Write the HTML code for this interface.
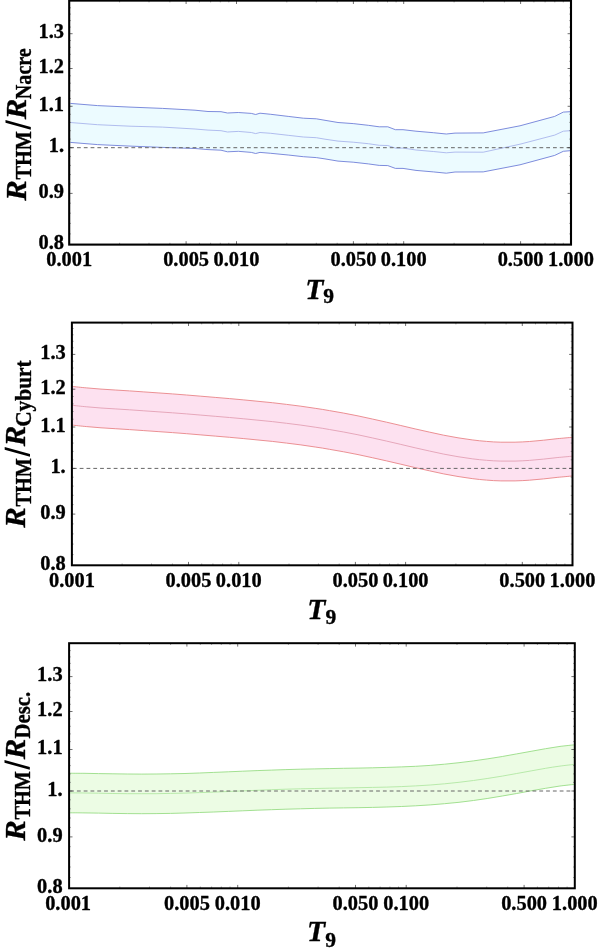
<!DOCTYPE html>
<html><head><meta charset="utf-8"><title>R ratios</title>
<style>
html,body{margin:0;padding:0;background:#fff;}
body{width:600px;height:952px;overflow:hidden;font-family:"Liberation Serif",serif;}
svg{display:block;will-change:transform;}
.t{font-family:"Liberation Serif",serif;font-weight:bold;fill:#000;stroke:#000;stroke-width:0.35px;stroke-linejoin:round;}
.tk{font-size:20.4px;}
.bi{font-style:italic;font-size:29.4px;}
.bt{font-style:italic;font-size:29.6px;}
.s9{font-size:21.5px;font-style:normal;}
.sb{font-size:22.6px;}
</style></head><body>
<svg width="600" height="952" viewBox="0 0 600 952">

<g>
<path d="M70.4 103.4L97.5 105.6L130.0 107.1L162.5 108.4L195.0 110.2L208.0 111.5L221.0 111.7L227.5 113.0L238.3 112.5L251.3 113.4L255.7 114.5L260.0 113.2L270.8 114.3L288.2 116.4L303.3 118.2L316.3 118.8L325.0 120.3L338.0 122.5L353.2 123.6L368.3 125.3L379.2 126.8L387.8 126.8L395.4 129.7L403.0 129.7L416.0 131.2L433.3 132.7L446.3 134.0L455.0 133.1L483.2 132.9L520.0 125.8L554.7 116.4L563.3 112.1L570.0 111.7L570.0 150.7L563.3 151.3L554.7 155.4L520.0 164.8L483.2 171.9L455.0 172.0L446.3 173.2L433.3 171.9L416.0 170.4L403.0 168.4L395.4 168.4L387.8 165.6L379.2 165.4L368.3 163.9L353.2 162.2L338.0 161.1L325.0 158.9L316.3 157.6L303.3 156.7L288.2 155.0L270.8 153.3L260.0 152.4L255.7 153.5L251.3 152.4L238.3 151.3L227.5 151.8L221.0 150.2L208.0 149.6L195.0 148.5L162.5 147.4L130.0 146.1L97.5 144.6L70.4 142.4Z" fill="#ecfbff" stroke="none"/>
<path d="M70.4 122.5L97.5 124.7L130.0 126.2L162.5 127.1L195.0 129.0L208.0 130.1L221.0 130.7L227.5 132.0L238.3 131.4L251.3 132.5L255.7 133.6L260.0 132.5L270.8 133.3L288.2 135.3L303.3 137.0L316.3 137.7L325.0 139.2L338.0 141.1L353.2 142.2L368.3 143.7L379.2 145.3L387.8 145.5L395.4 148.1L403.0 148.1L416.0 150.0L433.3 151.5L446.3 152.8L455.0 152.1L483.2 152.2L520.0 144.2L554.7 135.1L563.3 131.2L570.0 130.7" fill="none" stroke="#a9b5ec" stroke-width="0.9"/>
<path d="M70.4 103.4L97.5 105.6L130.0 107.1L162.5 108.4L195.0 110.2L208.0 111.5L221.0 111.7L227.5 113.0L238.3 112.5L251.3 113.4L255.7 114.5L260.0 113.2L270.8 114.3L288.2 116.4L303.3 118.2L316.3 118.8L325.0 120.3L338.0 122.5L353.2 123.6L368.3 125.3L379.2 126.8L387.8 126.8L395.4 129.7L403.0 129.7L416.0 131.2L433.3 132.7L446.3 134.0L455.0 133.1L483.2 132.9L520.0 125.8L554.7 116.4L563.3 112.1L570.0 111.7" fill="none" stroke="#6f7fd8" stroke-width="0.9"/>
<path d="M70.4 142.4L97.5 144.6L130.0 146.1L162.5 147.4L195.0 148.5L208.0 149.6L221.0 150.2L227.5 151.8L238.3 151.3L251.3 152.4L255.7 153.5L260.0 152.4L270.8 153.3L288.2 155.0L303.3 156.7L316.3 157.6L325.0 158.9L338.0 161.1L353.2 162.2L368.3 163.9L379.2 165.4L387.8 165.6L395.4 168.4L403.0 168.4L416.0 170.4L433.3 171.9L446.3 173.2L455.0 172.0L483.2 171.9L520.0 164.8L554.7 155.4L563.3 151.3L570.0 150.7" fill="none" stroke="#6f7fd8" stroke-width="0.9"/>
<line x1="70.2" y1="147.7" x2="570.0" y2="147.7" stroke="#666" stroke-width="1" stroke-dasharray="3.8 3"/>
<path d="M69.2 233.9h1.8M571.0 233.9h-1.8M69.2 223.4h1.8M571.0 223.4h-1.8M69.2 213.2h1.8M571.0 213.2h-1.8M69.2 203.2h1.8M571.0 203.2h-1.8M69.2 183.9h1.8M571.0 183.9h-1.8M69.2 174.6h1.8M571.0 174.6h-1.8M69.2 165.4h1.8M571.0 165.4h-1.8M69.2 156.5h1.8M571.0 156.5h-1.8M69.2 139.1h1.8M571.0 139.1h-1.8M69.2 130.7h1.8M571.0 130.7h-1.8M69.2 122.4h1.8M571.0 122.4h-1.8M69.2 114.3h1.8M571.0 114.3h-1.8M69.2 98.5h1.8M571.0 98.5h-1.8M69.2 90.8h1.8M571.0 90.8h-1.8M69.2 83.2h1.8M571.0 83.2h-1.8M69.2 75.8h1.8M571.0 75.8h-1.8M69.2 61.3h1.8M571.0 61.3h-1.8M69.2 54.3h1.8M571.0 54.3h-1.8M69.2 47.3h1.8M571.0 47.3h-1.8M69.2 40.5h1.8M571.0 40.5h-1.8M69.2 27.1h1.8M571.0 27.1h-1.8M69.2 20.6h1.8M571.0 20.6h-1.8M69.2 14.1h1.8M571.0 14.1h-1.8M69.2 7.8h1.8M571.0 7.8h-1.8M119.6 244.6v-1.8M119.6 0.6v1.8M149.0 244.6v-1.8M149.0 0.6v1.8M169.9 244.6v-1.8M169.9 0.6v1.8M199.4 244.6v-1.8M199.4 0.6v1.8M210.6 244.6v-1.8M210.6 0.6v1.8M220.3 244.6v-1.8M220.3 0.6v1.8M228.8 244.6v-1.8M228.8 0.6v1.8M286.8 244.6v-1.8M286.8 0.6v1.8M316.3 244.6v-1.8M316.3 0.6v1.8M337.2 244.6v-1.8M337.2 0.6v1.8M366.6 244.6v-1.8M366.6 0.6v1.8M377.8 244.6v-1.8M377.8 0.6v1.8M387.5 244.6v-1.8M387.5 0.6v1.8M396.1 244.6v-1.8M396.1 0.6v1.8M454.1 244.6v-1.8M454.1 0.6v1.8M483.5 244.6v-1.8M483.5 0.6v1.8M504.4 244.6v-1.8M504.4 0.6v1.8M533.9 244.6v-1.8M533.9 0.6v1.8M545.1 244.6v-1.8M545.1 0.6v1.8M554.8 244.6v-1.8M554.8 0.6v1.8M563.3 244.6v-1.8M563.3 0.6v1.8" stroke="#555" stroke-width="0.5" fill="none"/>
<path d="M69.2 193.4h3.4M571.0 193.4h-3.4M69.2 147.7h3.4M571.0 147.7h-3.4M69.2 106.3h3.4M571.0 106.3h-3.4M69.2 68.5h3.4M571.0 68.5h-3.4M69.2 33.7h3.4M571.0 33.7h-3.4M186.1 244.6v-3.4M186.1 0.6v3.4M236.5 244.6v-3.4M236.5 0.6v3.4M353.4 244.6v-3.4M353.4 0.6v3.4M403.7 244.6v-3.4M403.7 0.6v3.4M520.6 244.6v-3.4M520.6 0.6v3.4" stroke="#333" stroke-width="0.7" fill="none"/>
<rect x="69.2" y="0.6" width="501.8" height="244.0" fill="none" stroke="#000" stroke-width="2.1"/>
<text class="t tk" x="64.0" y="38.4" text-anchor="end">1.3</text>
<text class="t tk" x="64.0" y="73.2" text-anchor="end">1.2</text>
<text class="t tk" x="64.0" y="111.0" text-anchor="end">1.1</text>
<text class="t tk" x="64.0" y="152.4" text-anchor="end">1.</text>
<text class="t tk" x="64.0" y="198.1" text-anchor="end">0.9</text>
<text class="t tk" x="64.0" y="249.3" text-anchor="end">0.8</text>
<text class="t tk" x="69.2" y="266.2" text-anchor="middle">0.001</text>
<text class="t tk" x="186.1" y="266.2" text-anchor="middle">0.005</text>
<text class="t tk" x="236.5" y="266.2" text-anchor="middle">0.010</text>
<text class="t tk" x="353.4" y="266.2" text-anchor="middle">0.050</text>
<text class="t tk" x="403.7" y="266.2" text-anchor="middle">0.100</text>
<text class="t tk" x="520.6" y="266.2" text-anchor="middle">0.500</text>
<text class="t tk" x="571.0" y="266.2" text-anchor="middle">1.000</text>
<text class="t bt" x="305.2" y="299.0">T<tspan class="s9" dy="4.3">9</tspan></text>
<g transform="translate(26.0 201.0) rotate(-90)">
<text class="t bi" x="0.3" y="0" transform="scale(1.045 1)">R</text>
<text class="t sb" x="21.4" y="5.4" textLength="48.5" lengthAdjust="spacingAndGlyphs">THM</text>
<path d="M71.3 4.8h2.7L81.0 -20.5h-2.7Z" fill="#000"/>
<text class="t bi" x="78.3" y="0" transform="scale(1.045 1)">R</text>
<text class="t sb" x="101.8" y="5.4" textLength="51.0" lengthAdjust="spacingAndGlyphs">Nacre</text>
</g>
</g>
<g>
<path d="M72.4 386.4C74.8 386.7 81.9 387.5 86.7 387.9C91.4 388.4 96.2 388.7 101.0 389.1C105.7 389.4 110.5 389.7 115.2 390.0C120.0 390.3 124.8 390.6 129.5 390.9C134.3 391.2 139.0 391.5 143.8 391.9C148.6 392.2 153.3 392.5 158.1 392.9C162.8 393.2 167.6 393.6 172.4 393.9C177.1 394.3 181.9 394.6 186.6 395.0C191.4 395.4 196.2 395.8 200.9 396.2C205.7 396.6 210.4 397.0 215.2 397.4C220.0 397.8 224.7 398.2 229.5 398.6C234.2 399.0 239.0 399.4 243.8 399.9C248.5 400.3 253.3 400.8 258.0 401.3C262.8 401.7 267.6 402.2 272.3 402.7C277.1 403.3 281.8 403.8 286.6 404.4C291.4 405.0 296.1 405.6 300.9 406.2C305.6 406.9 310.4 407.5 315.2 408.3C319.9 409.0 324.7 409.7 329.4 410.6C334.2 411.4 339.0 412.2 343.7 413.1C348.5 414.0 353.2 414.9 358.0 415.9C362.8 416.9 367.5 417.9 372.3 419.0C377.0 420.0 381.8 421.1 386.6 422.2C391.3 423.3 396.1 424.4 400.8 425.5C405.6 426.7 410.4 427.8 415.1 428.9C419.9 430.0 424.6 431.1 429.4 432.1C434.2 433.2 438.9 434.2 443.7 435.2C448.4 436.1 453.2 437.0 458.0 437.8C462.7 438.6 467.5 439.3 472.2 439.9C477.0 440.5 481.8 441.1 486.5 441.4C491.3 441.8 496.0 442.1 500.8 442.2C505.6 442.3 510.3 442.3 515.1 442.2C519.8 442.1 524.6 441.8 529.4 441.5C534.1 441.1 538.9 440.7 543.6 440.2C548.4 439.7 553.2 439.1 557.9 438.6C562.7 438.2 569.8 437.5 572.2 437.3L572.2 476.0C569.8 476.2 562.7 476.9 557.9 477.3C553.2 477.8 548.4 478.4 543.6 478.9C538.9 479.4 534.1 479.8 529.4 480.2C524.6 480.5 519.8 480.8 515.1 480.9C510.3 481.0 505.6 481.0 500.8 480.9C496.0 480.8 491.3 480.5 486.5 480.1C481.8 479.8 477.0 479.2 472.2 478.6C467.5 478.0 462.7 477.3 458.0 476.5C453.2 475.7 448.4 474.8 443.7 473.9C438.9 472.9 434.2 471.9 429.4 470.8C424.6 469.8 419.9 468.7 415.1 467.6C410.4 466.5 405.6 465.4 400.8 464.2C396.1 463.1 391.3 462.0 386.6 460.9C381.8 459.8 377.0 458.7 372.3 457.7C367.5 456.6 362.8 455.6 358.0 454.6C353.2 453.6 348.5 452.7 343.7 451.8C339.0 450.9 334.2 450.1 329.4 449.3C324.7 448.4 319.9 447.7 315.2 447.0C310.4 446.2 305.6 445.6 300.9 444.9C296.1 444.3 291.4 443.7 286.6 443.1C281.8 442.5 277.1 442.0 272.3 441.4C267.6 440.9 262.8 440.4 258.0 440.0C253.3 439.5 248.5 439.0 243.8 438.6C239.0 438.1 234.2 437.7 229.5 437.3C224.7 436.9 220.0 436.5 215.2 436.1C210.4 435.7 205.7 435.3 200.9 434.9C196.2 434.5 191.4 434.1 186.6 433.7C181.9 433.3 177.1 433.0 172.4 432.6C167.6 432.3 162.8 431.9 158.1 431.6C153.3 431.2 148.6 430.9 143.8 430.6C139.0 430.2 134.3 429.9 129.5 429.6C124.8 429.3 120.0 429.0 115.2 428.7C110.5 428.4 105.7 428.1 101.0 427.8C96.2 427.4 91.4 427.1 86.7 426.6C81.9 426.2 74.8 425.4 72.4 425.1Z" fill="#fde1f0" stroke="none"/>
<path d="M72.4 405.3C74.8 405.6 81.9 406.4 86.7 406.8C91.4 407.3 96.2 407.6 101.0 408.0C105.7 408.3 110.5 408.6 115.2 408.9C120.0 409.2 124.8 409.5 129.5 409.8C134.3 410.1 139.0 410.4 143.8 410.8C148.6 411.1 153.3 411.4 158.1 411.8C162.8 412.1 167.6 412.5 172.4 412.8C177.1 413.2 181.9 413.5 186.6 413.9C191.4 414.3 196.2 414.7 200.9 415.1C205.7 415.5 210.4 415.9 215.2 416.3C220.0 416.7 224.7 417.1 229.5 417.5C234.2 417.9 239.0 418.3 243.8 418.8C248.5 419.2 253.3 419.7 258.0 420.2C262.8 420.6 267.6 421.1 272.3 421.6C277.1 422.2 281.8 422.7 286.6 423.3C291.4 423.9 296.1 424.5 300.9 425.1C305.6 425.8 310.4 426.4 315.2 427.2C319.9 427.9 324.7 428.6 329.4 429.5C334.2 430.3 339.0 431.1 343.7 432.0C348.5 432.9 353.2 433.8 358.0 434.8C362.8 435.8 367.5 436.8 372.3 437.9C377.0 438.9 381.8 440.0 386.6 441.1C391.3 442.2 396.1 443.3 400.8 444.4C405.6 445.6 410.4 446.7 415.1 447.8C419.9 448.9 424.6 450.0 429.4 451.0C434.2 452.1 438.9 453.1 443.7 454.1C448.4 455.0 453.2 455.9 458.0 456.7C462.7 457.5 467.5 458.2 472.2 458.8C477.0 459.4 481.8 460.0 486.5 460.3C491.3 460.7 496.0 461.0 500.8 461.1C505.6 461.2 510.3 461.2 515.1 461.1C519.8 461.0 524.6 460.7 529.4 460.4C534.1 460.0 538.9 459.6 543.6 459.1C548.4 458.6 553.2 458.0 557.9 457.5C562.7 457.1 569.8 456.4 572.2 456.2" fill="none" stroke="#e3a0b4" stroke-width="0.9"/>
<path d="M72.4 386.4C74.8 386.7 81.9 387.5 86.7 387.9C91.4 388.4 96.2 388.7 101.0 389.1C105.7 389.4 110.5 389.7 115.2 390.0C120.0 390.3 124.8 390.6 129.5 390.9C134.3 391.2 139.0 391.5 143.8 391.9C148.6 392.2 153.3 392.5 158.1 392.9C162.8 393.2 167.6 393.6 172.4 393.9C177.1 394.3 181.9 394.6 186.6 395.0C191.4 395.4 196.2 395.8 200.9 396.2C205.7 396.6 210.4 397.0 215.2 397.4C220.0 397.8 224.7 398.2 229.5 398.6C234.2 399.0 239.0 399.4 243.8 399.9C248.5 400.3 253.3 400.8 258.0 401.3C262.8 401.7 267.6 402.2 272.3 402.7C277.1 403.3 281.8 403.8 286.6 404.4C291.4 405.0 296.1 405.6 300.9 406.2C305.6 406.9 310.4 407.5 315.2 408.3C319.9 409.0 324.7 409.7 329.4 410.6C334.2 411.4 339.0 412.2 343.7 413.1C348.5 414.0 353.2 414.9 358.0 415.9C362.8 416.9 367.5 417.9 372.3 419.0C377.0 420.0 381.8 421.1 386.6 422.2C391.3 423.3 396.1 424.4 400.8 425.5C405.6 426.7 410.4 427.8 415.1 428.9C419.9 430.0 424.6 431.1 429.4 432.1C434.2 433.2 438.9 434.2 443.7 435.2C448.4 436.1 453.2 437.0 458.0 437.8C462.7 438.6 467.5 439.3 472.2 439.9C477.0 440.5 481.8 441.1 486.5 441.4C491.3 441.8 496.0 442.1 500.8 442.2C505.6 442.3 510.3 442.3 515.1 442.2C519.8 442.1 524.6 441.8 529.4 441.5C534.1 441.1 538.9 440.7 543.6 440.2C548.4 439.7 553.2 439.1 557.9 438.6C562.7 438.2 569.8 437.5 572.2 437.3" fill="none" stroke="#e98488" stroke-width="0.9"/>
<path d="M72.4 425.1C74.8 425.4 81.9 426.2 86.7 426.6C91.4 427.1 96.2 427.4 101.0 427.8C105.7 428.1 110.5 428.4 115.2 428.7C120.0 429.0 124.8 429.3 129.5 429.6C134.3 429.9 139.0 430.2 143.8 430.6C148.6 430.9 153.3 431.2 158.1 431.6C162.8 431.9 167.6 432.3 172.4 432.6C177.1 433.0 181.9 433.3 186.6 433.7C191.4 434.1 196.2 434.5 200.9 434.9C205.7 435.3 210.4 435.7 215.2 436.1C220.0 436.5 224.7 436.9 229.5 437.3C234.2 437.7 239.0 438.1 243.8 438.6C248.5 439.0 253.3 439.5 258.0 440.0C262.8 440.4 267.6 440.9 272.3 441.4C277.1 442.0 281.8 442.5 286.6 443.1C291.4 443.7 296.1 444.3 300.9 444.9C305.6 445.6 310.4 446.2 315.2 447.0C319.9 447.7 324.7 448.4 329.4 449.3C334.2 450.1 339.0 450.9 343.7 451.8C348.5 452.7 353.2 453.6 358.0 454.6C362.8 455.6 367.5 456.6 372.3 457.7C377.0 458.7 381.8 459.8 386.6 460.9C391.3 462.0 396.1 463.1 400.8 464.2C405.6 465.4 410.4 466.5 415.1 467.6C419.9 468.7 424.6 469.8 429.4 470.8C434.2 471.9 438.9 472.9 443.7 473.9C448.4 474.8 453.2 475.7 458.0 476.5C462.7 477.3 467.5 478.0 472.2 478.6C477.0 479.2 481.8 479.8 486.5 480.1C491.3 480.5 496.0 480.8 500.8 480.9C505.6 481.0 510.3 481.0 515.1 480.9C519.8 480.8 524.6 480.5 529.4 480.2C534.1 479.8 538.9 479.4 543.6 478.9C548.4 478.4 553.2 477.8 557.9 477.3C562.7 476.9 569.8 476.2 572.2 476.0" fill="none" stroke="#e98488" stroke-width="0.9"/>
<line x1="72.9" y1="468.4" x2="571.5" y2="468.4" stroke="#666" stroke-width="1" stroke-dasharray="3.8 3"/>
<path d="M71.9 554.6h1.8M572.5 554.6h-1.8M71.9 544.1h1.8M572.5 544.1h-1.8M71.9 533.9h1.8M572.5 533.9h-1.8M71.9 523.9h1.8M572.5 523.9h-1.8M71.9 504.6h1.8M572.5 504.6h-1.8M71.9 495.3h1.8M572.5 495.3h-1.8M71.9 486.1h1.8M572.5 486.1h-1.8M71.9 477.2h1.8M572.5 477.2h-1.8M71.9 459.8h1.8M572.5 459.8h-1.8M71.9 451.4h1.8M572.5 451.4h-1.8M71.9 443.1h1.8M572.5 443.1h-1.8M71.9 435.0h1.8M572.5 435.0h-1.8M71.9 419.2h1.8M572.5 419.2h-1.8M71.9 411.5h1.8M572.5 411.5h-1.8M71.9 403.9h1.8M572.5 403.9h-1.8M71.9 396.5h1.8M572.5 396.5h-1.8M71.9 382.0h1.8M572.5 382.0h-1.8M71.9 375.0h1.8M572.5 375.0h-1.8M71.9 368.0h1.8M572.5 368.0h-1.8M71.9 361.2h1.8M572.5 361.2h-1.8M71.9 347.8h1.8M572.5 347.8h-1.8M71.9 341.3h1.8M572.5 341.3h-1.8M71.9 334.8h1.8M572.5 334.8h-1.8M71.9 328.5h1.8M572.5 328.5h-1.8M122.1 565.3v-1.8M122.1 322.6v1.8M151.5 565.3v-1.8M151.5 322.6v1.8M172.4 565.3v-1.8M172.4 322.6v1.8M201.7 565.3v-1.8M201.7 322.6v1.8M212.9 565.3v-1.8M212.9 322.6v1.8M222.6 565.3v-1.8M222.6 322.6v1.8M231.1 565.3v-1.8M231.1 322.6v1.8M289.0 565.3v-1.8M289.0 322.6v1.8M318.4 565.3v-1.8M318.4 322.6v1.8M339.2 565.3v-1.8M339.2 322.6v1.8M368.6 565.3v-1.8M368.6 322.6v1.8M379.8 565.3v-1.8M379.8 322.6v1.8M389.5 565.3v-1.8M389.5 322.6v1.8M398.0 565.3v-1.8M398.0 322.6v1.8M455.9 565.3v-1.8M455.9 322.6v1.8M485.2 565.3v-1.8M485.2 322.6v1.8M506.1 565.3v-1.8M506.1 322.6v1.8M535.5 565.3v-1.8M535.5 322.6v1.8M546.7 565.3v-1.8M546.7 322.6v1.8M556.3 565.3v-1.8M556.3 322.6v1.8M564.9 565.3v-1.8M564.9 322.6v1.8" stroke="#555" stroke-width="0.5" fill="none"/>
<path d="M71.9 514.1h3.4M572.5 514.1h-3.4M71.9 468.4h3.4M572.5 468.4h-3.4M71.9 427.0h3.4M572.5 427.0h-3.4M71.9 389.2h3.4M572.5 389.2h-3.4M71.9 354.4h3.4M572.5 354.4h-3.4M188.5 565.3v-3.4M188.5 322.6v3.4M238.8 565.3v-3.4M238.8 322.6v3.4M355.4 565.3v-3.4M355.4 322.6v3.4M405.6 565.3v-3.4M405.6 322.6v3.4M522.3 565.3v-3.4M522.3 322.6v3.4" stroke="#333" stroke-width="0.7" fill="none"/>
<rect x="71.9" y="322.6" width="500.6" height="242.7" fill="none" stroke="#000" stroke-width="2.0"/>
<text class="t tk" x="65.7" y="359.3" text-anchor="end">1.3</text>
<text class="t tk" x="65.7" y="394.1" text-anchor="end">1.2</text>
<text class="t tk" x="65.7" y="431.9" text-anchor="end">1.1</text>
<text class="t tk" x="65.7" y="473.3" text-anchor="end">1.</text>
<text class="t tk" x="65.7" y="519.0" text-anchor="end">0.9</text>
<text class="t tk" x="65.7" y="570.2" text-anchor="end">0.8</text>
<text class="t tk" x="71.9" y="586.6" text-anchor="middle">0.001</text>
<text class="t tk" x="188.5" y="586.6" text-anchor="middle">0.005</text>
<text class="t tk" x="238.8" y="586.6" text-anchor="middle">0.010</text>
<text class="t tk" x="355.4" y="586.6" text-anchor="middle">0.050</text>
<text class="t tk" x="405.6" y="586.6" text-anchor="middle">0.100</text>
<text class="t tk" x="522.3" y="586.6" text-anchor="middle">0.500</text>
<text class="t tk" x="572.5" y="586.6" text-anchor="middle">1.000</text>
<text class="t bt" x="307.3" y="618.7">T<tspan class="s9" dy="5.1">9</tspan></text>
<g transform="translate(25.2 528.0) rotate(-90)">
<text class="t bi" x="0.3" y="0" transform="scale(1.045 1)">R</text>
<text class="t sb" x="21.4" y="5.4" textLength="48.5" lengthAdjust="spacingAndGlyphs">THM</text>
<path d="M71.3 4.8h2.7L81.0 -20.5h-2.7Z" fill="#000"/>
<text class="t bi" x="78.3" y="0" transform="scale(1.045 1)">R</text>
<text class="t sb" x="101.2" y="5.4" textLength="66.4" lengthAdjust="spacingAndGlyphs">Cyburt</text>
</g>
</g>
<g>
<path d="M69.6 773.2C72.0 773.3 79.2 773.3 84.0 773.3C88.8 773.4 93.6 773.5 98.4 773.6C103.3 773.6 108.1 773.8 112.9 773.8C117.7 773.9 122.5 774.0 127.3 774.0C132.1 774.1 136.9 774.1 141.7 774.1C146.5 774.1 151.3 774.1 156.1 774.0C160.9 774.0 165.8 773.9 170.6 773.8C175.4 773.7 180.2 773.6 185.0 773.5C189.8 773.3 194.6 773.2 199.4 773.0C204.2 772.8 209.0 772.6 213.8 772.4C218.6 772.2 223.4 772.0 228.3 771.8C233.1 771.6 237.9 771.4 242.7 771.2C247.5 771.0 252.3 770.8 257.1 770.6C261.9 770.4 266.7 770.3 271.5 770.1C276.3 769.9 281.1 769.8 285.9 769.6C290.8 769.5 295.6 769.3 300.4 769.2C305.2 769.1 310.0 769.0 314.8 768.9C319.6 768.8 324.4 768.7 329.2 768.6C334.0 768.5 338.8 768.4 343.6 768.3C348.4 768.3 353.2 768.2 358.1 768.1C362.9 768.0 367.7 767.9 372.5 767.8C377.3 767.7 382.1 767.6 386.9 767.4C391.7 767.3 396.5 767.1 401.3 766.9C406.1 766.8 410.9 766.5 415.7 766.3C420.6 766.0 425.4 765.7 430.2 765.4C435.0 765.0 439.8 764.6 444.6 764.2C449.4 763.7 454.2 763.3 459.0 762.7C463.8 762.2 468.6 761.6 473.4 760.9C478.2 760.3 483.1 759.6 487.9 758.8C492.7 758.1 497.5 757.3 502.3 756.5C507.1 755.6 511.9 754.8 516.7 753.9C521.5 753.0 526.3 752.1 531.1 751.3C535.9 750.4 540.7 749.5 545.6 748.7C550.4 747.9 555.2 747.1 560.0 746.4C564.8 745.8 572.0 745.1 574.4 744.8L574.4 784.4C572.0 784.6 564.8 785.4 560.0 786.0C555.2 786.7 550.4 787.5 545.6 788.3C540.7 789.1 535.9 789.9 531.1 790.8C526.3 791.7 521.5 792.6 516.7 793.5C511.9 794.3 507.1 795.2 502.3 796.0C497.5 796.8 492.7 797.6 487.9 798.4C483.1 799.1 478.2 799.8 473.4 800.5C468.6 801.1 463.8 801.7 459.0 802.3C454.2 802.8 449.4 803.3 444.6 803.7C439.8 804.2 435.0 804.6 430.2 804.9C425.4 805.3 420.6 805.6 415.7 805.8C410.9 806.1 406.1 806.3 401.3 806.5C396.5 806.7 391.7 806.9 386.9 807.0C382.1 807.1 377.3 807.3 372.5 807.4C367.7 807.5 362.9 807.6 358.1 807.7C353.2 807.7 348.4 807.8 343.6 807.9C338.8 808.0 334.0 808.1 329.2 808.1C324.4 808.2 319.6 808.3 314.8 808.4C310.0 808.5 305.2 808.6 300.4 808.8C295.6 808.9 290.8 809.0 285.9 809.2C281.1 809.3 276.3 809.5 271.5 809.7C266.7 809.8 261.9 810.0 257.1 810.2C252.3 810.4 247.5 810.6 242.7 810.8C237.9 811.0 233.1 811.2 228.3 811.4C223.4 811.6 218.6 811.8 213.8 812.0C209.0 812.2 204.2 812.4 199.4 812.5C194.6 812.7 189.8 812.9 185.0 813.0C180.2 813.2 175.4 813.3 170.6 813.4C165.8 813.5 160.9 813.5 156.1 813.6C151.3 813.6 146.5 813.7 141.7 813.7C136.9 813.7 132.1 813.6 127.3 813.6C122.5 813.5 117.7 813.5 112.9 813.4C108.1 813.3 103.3 813.2 98.4 813.1C93.6 813.0 88.8 812.9 84.0 812.9C79.2 812.8 72.0 812.8 69.6 812.8Z" fill="#ecfce4" stroke="none"/>
<path d="M69.6 792.9C72.0 792.9 79.2 792.9 84.0 793.0C88.8 793.0 93.6 793.1 98.4 793.2C103.3 793.3 108.1 793.4 112.9 793.5C117.7 793.5 122.5 793.6 127.3 793.7C132.1 793.7 136.9 793.7 141.7 793.7C146.5 793.7 151.3 793.7 156.1 793.7C160.9 793.6 165.8 793.5 170.6 793.4C175.4 793.3 180.2 793.2 185.0 793.1C189.8 792.9 194.6 792.8 199.4 792.6C204.2 792.4 209.0 792.2 213.8 792.1C218.6 791.9 223.4 791.7 228.3 791.5C233.1 791.3 237.9 791.0 242.7 790.9C247.5 790.7 252.3 790.5 257.1 790.3C261.9 790.1 266.7 789.9 271.5 789.7C276.3 789.5 281.1 789.4 285.9 789.2C290.8 789.1 295.6 789.0 300.4 788.8C305.2 788.7 310.0 788.6 314.8 788.5C319.6 788.4 324.4 788.3 329.2 788.2C334.0 788.1 338.8 788.0 343.6 788.0C348.4 787.9 353.2 787.8 358.1 787.7C362.9 787.6 367.7 787.5 372.5 787.4C377.3 787.3 382.1 787.2 386.9 787.1C391.7 786.9 396.5 786.8 401.3 786.6C406.1 786.4 410.9 786.2 415.7 785.9C420.6 785.6 425.4 785.3 430.2 785.0C435.0 784.6 439.8 784.3 444.6 783.8C449.4 783.4 454.2 782.9 459.0 782.3C463.8 781.8 468.6 781.2 473.4 780.5C478.2 779.9 483.1 779.2 487.9 778.4C492.7 777.7 497.5 776.9 502.3 776.1C507.1 775.3 511.9 774.4 516.7 773.5C521.5 772.7 526.3 771.7 531.1 770.9C535.9 770.0 540.7 769.1 545.6 768.3C550.4 767.5 555.2 766.7 560.0 766.1C564.8 765.4 572.0 764.7 574.4 764.4" fill="none" stroke="#b2e8a4" stroke-width="0.9"/>
<path d="M69.6 773.2C72.0 773.3 79.2 773.3 84.0 773.3C88.8 773.4 93.6 773.5 98.4 773.6C103.3 773.6 108.1 773.8 112.9 773.8C117.7 773.9 122.5 774.0 127.3 774.0C132.1 774.1 136.9 774.1 141.7 774.1C146.5 774.1 151.3 774.1 156.1 774.0C160.9 774.0 165.8 773.9 170.6 773.8C175.4 773.7 180.2 773.6 185.0 773.5C189.8 773.3 194.6 773.2 199.4 773.0C204.2 772.8 209.0 772.6 213.8 772.4C218.6 772.2 223.4 772.0 228.3 771.8C233.1 771.6 237.9 771.4 242.7 771.2C247.5 771.0 252.3 770.8 257.1 770.6C261.9 770.4 266.7 770.3 271.5 770.1C276.3 769.9 281.1 769.8 285.9 769.6C290.8 769.5 295.6 769.3 300.4 769.2C305.2 769.1 310.0 769.0 314.8 768.9C319.6 768.8 324.4 768.7 329.2 768.6C334.0 768.5 338.8 768.4 343.6 768.3C348.4 768.3 353.2 768.2 358.1 768.1C362.9 768.0 367.7 767.9 372.5 767.8C377.3 767.7 382.1 767.6 386.9 767.4C391.7 767.3 396.5 767.1 401.3 766.9C406.1 766.8 410.9 766.5 415.7 766.3C420.6 766.0 425.4 765.7 430.2 765.4C435.0 765.0 439.8 764.6 444.6 764.2C449.4 763.7 454.2 763.3 459.0 762.7C463.8 762.2 468.6 761.6 473.4 760.9C478.2 760.3 483.1 759.6 487.9 758.8C492.7 758.1 497.5 757.3 502.3 756.5C507.1 755.6 511.9 754.8 516.7 753.9C521.5 753.0 526.3 752.1 531.1 751.3C535.9 750.4 540.7 749.5 545.6 748.7C550.4 747.9 555.2 747.1 560.0 746.4C564.8 745.8 572.0 745.1 574.4 744.8" fill="none" stroke="#98dc86" stroke-width="0.9"/>
<path d="M69.6 812.8C72.0 812.8 79.2 812.8 84.0 812.9C88.8 812.9 93.6 813.0 98.4 813.1C103.3 813.2 108.1 813.3 112.9 813.4C117.7 813.5 122.5 813.5 127.3 813.6C132.1 813.6 136.9 813.7 141.7 813.7C146.5 813.7 151.3 813.6 156.1 813.6C160.9 813.5 165.8 813.5 170.6 813.4C175.4 813.3 180.2 813.2 185.0 813.0C189.8 812.9 194.6 812.7 199.4 812.5C204.2 812.4 209.0 812.2 213.8 812.0C218.6 811.8 223.4 811.6 228.3 811.4C233.1 811.2 237.9 811.0 242.7 810.8C247.5 810.6 252.3 810.4 257.1 810.2C261.9 810.0 266.7 809.8 271.5 809.7C276.3 809.5 281.1 809.3 285.9 809.2C290.8 809.0 295.6 808.9 300.4 808.8C305.2 808.6 310.0 808.5 314.8 808.4C319.6 808.3 324.4 808.2 329.2 808.1C334.0 808.1 338.8 808.0 343.6 807.9C348.4 807.8 353.2 807.7 358.1 807.7C362.9 807.6 367.7 807.5 372.5 807.4C377.3 807.3 382.1 807.1 386.9 807.0C391.7 806.9 396.5 806.7 401.3 806.5C406.1 806.3 410.9 806.1 415.7 805.8C420.6 805.6 425.4 805.3 430.2 804.9C435.0 804.6 439.8 804.2 444.6 803.7C449.4 803.3 454.2 802.8 459.0 802.3C463.8 801.7 468.6 801.1 473.4 800.5C478.2 799.8 483.1 799.1 487.9 798.4C492.7 797.6 497.5 796.8 502.3 796.0C507.1 795.2 511.9 794.3 516.7 793.5C521.5 792.6 526.3 791.7 531.1 790.8C535.9 789.9 540.7 789.1 545.6 788.3C550.4 787.5 555.2 786.7 560.0 786.0C564.8 785.4 572.0 784.6 574.4 784.4" fill="none" stroke="#98dc86" stroke-width="0.9"/>
<line x1="70.1" y1="791.0" x2="573.8" y2="791.0" stroke="#666" stroke-width="1" stroke-dasharray="3.8 3"/>
<path d="M69.1 877.5h1.8M574.8 877.5h-1.8M69.1 867.0h1.8M574.8 867.0h-1.8M69.1 856.8h1.8M574.8 856.8h-1.8M69.1 846.7h1.8M574.8 846.7h-1.8M69.1 827.4h1.8M574.8 827.4h-1.8M69.1 818.0h1.8M574.8 818.0h-1.8M69.1 808.8h1.8M574.8 808.8h-1.8M69.1 799.8h1.8M574.8 799.8h-1.8M69.1 782.4h1.8M574.8 782.4h-1.8M69.1 773.9h1.8M574.8 773.9h-1.8M69.1 765.6h1.8M574.8 765.6h-1.8M69.1 757.5h1.8M574.8 757.5h-1.8M69.1 741.6h1.8M574.8 741.6h-1.8M69.1 733.9h1.8M574.8 733.9h-1.8M69.1 726.3h1.8M574.8 726.3h-1.8M69.1 718.8h1.8M574.8 718.8h-1.8M69.1 704.3h1.8M574.8 704.3h-1.8M69.1 697.2h1.8M574.8 697.2h-1.8M69.1 690.2h1.8M574.8 690.2h-1.8M69.1 683.4h1.8M574.8 683.4h-1.8M69.1 670.0h1.8M574.8 670.0h-1.8M69.1 663.4h1.8M574.8 663.4h-1.8M69.1 656.9h1.8M574.8 656.9h-1.8M69.1 650.6h1.8M574.8 650.6h-1.8M119.8 888.3v-1.8M119.8 643.2v1.8M149.5 888.3v-1.8M149.5 643.2v1.8M170.6 888.3v-1.8M170.6 643.2v1.8M200.3 888.3v-1.8M200.3 643.2v1.8M211.6 888.3v-1.8M211.6 643.2v1.8M221.3 888.3v-1.8M221.3 643.2v1.8M230.0 888.3v-1.8M230.0 643.2v1.8M288.4 888.3v-1.8M288.4 643.2v1.8M318.1 888.3v-1.8M318.1 643.2v1.8M339.2 888.3v-1.8M339.2 643.2v1.8M368.8 888.3v-1.8M368.8 643.2v1.8M380.1 888.3v-1.8M380.1 643.2v1.8M389.9 888.3v-1.8M389.9 643.2v1.8M398.5 888.3v-1.8M398.5 643.2v1.8M457.0 888.3v-1.8M457.0 643.2v1.8M486.7 888.3v-1.8M486.7 643.2v1.8M507.7 888.3v-1.8M507.7 643.2v1.8M537.4 888.3v-1.8M537.4 643.2v1.8M548.7 888.3v-1.8M548.7 643.2v1.8M558.5 888.3v-1.8M558.5 643.2v1.8M567.1 888.3v-1.8M567.1 643.2v1.8" stroke="#555" stroke-width="0.5" fill="none"/>
<path d="M69.1 836.9h3.4M574.8 836.9h-3.4M69.1 791.0h3.4M574.8 791.0h-3.4M69.1 749.5h3.4M574.8 749.5h-3.4M69.1 711.5h3.4M574.8 711.5h-3.4M69.1 676.6h3.4M574.8 676.6h-3.4M186.9 888.3v-3.4M186.9 643.2v3.4M237.7 888.3v-3.4M237.7 643.2v3.4M355.5 888.3v-3.4M355.5 643.2v3.4M406.2 888.3v-3.4M406.2 643.2v3.4M524.1 888.3v-3.4M524.1 643.2v3.4" stroke="#333" stroke-width="0.7" fill="none"/>
<rect x="69.1" y="643.2" width="505.7" height="245.1" fill="none" stroke="#000" stroke-width="2.0"/>
<text class="t tk" x="62.6" y="681.3" text-anchor="end">1.3</text>
<text class="t tk" x="62.6" y="716.2" text-anchor="end">1.2</text>
<text class="t tk" x="62.6" y="754.2" text-anchor="end">1.1</text>
<text class="t tk" x="62.6" y="795.7" text-anchor="end">1.</text>
<text class="t tk" x="62.6" y="841.6" text-anchor="end">0.9</text>
<text class="t tk" x="62.6" y="893.0" text-anchor="end">0.8</text>
<text class="t tk" x="68.1" y="910.0" text-anchor="middle">0.001</text>
<text class="t tk" x="186.9" y="910.0" text-anchor="middle">0.005</text>
<text class="t tk" x="237.7" y="910.0" text-anchor="middle">0.010</text>
<text class="t tk" x="355.5" y="910.0" text-anchor="middle">0.050</text>
<text class="t tk" x="406.2" y="910.0" text-anchor="middle">0.100</text>
<text class="t tk" x="524.1" y="910.0" text-anchor="middle">0.500</text>
<text class="t tk" x="574.8" y="910.0" text-anchor="middle">1.000</text>
<text class="t bt" x="307.1" y="941.4">T<tspan class="s9" dy="5.4">9</tspan></text>
<g transform="translate(25.0 841.0) rotate(-90)">
<text class="t bi" x="0.3" y="0" transform="scale(1.045 1)">R</text>
<text class="t sb" x="21.4" y="5.4" textLength="48.5" lengthAdjust="spacingAndGlyphs">THM</text>
<path d="M71.3 4.8h2.7L81.0 -20.5h-2.7Z" fill="#000"/>
<text class="t bi" x="78.3" y="0" transform="scale(1.045 1)">R</text>
<text class="t sb" x="102.6" y="5.4" textLength="46.5" lengthAdjust="spacingAndGlyphs">Desc.</text>
</g>
</g>
</svg></body></html>
